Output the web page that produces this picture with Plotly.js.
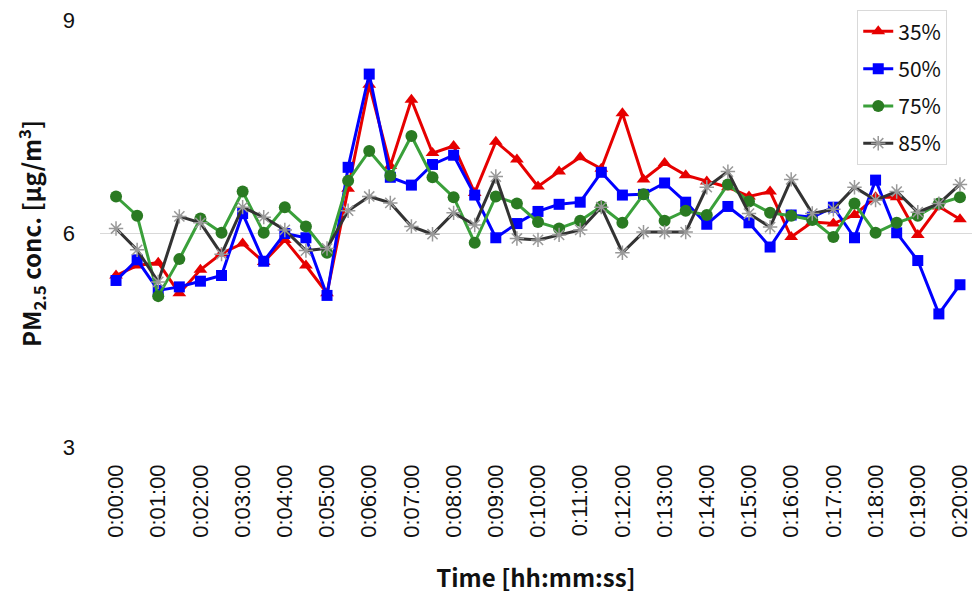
<!DOCTYPE html>
<html>
<head>
<meta charset="utf-8">
<script src="https://cdn.plot.ly/plotly-3.0.1.min.js"></script>
<style>html,body{margin:0;padding:0;background:#fff;}#chart{width:973px;height:594px;}</style>
</head>
<body>
<div id="chart"></div>
<script>
// time stamps every 30 s
var times = ["0:00:00","0:00:30","0:01:00","0:01:30","0:02:00","0:02:30","0:03:00","0:03:30","0:04:00","0:04:30",
"0:05:00","0:05:30","0:06:00","0:06:30","0:07:00","0:07:30","0:08:00","0:08:30","0:09:00","0:09:30",
"0:10:00","0:10:30","0:11:00","0:11:30","0:12:00","0:12:30","0:13:00","0:13:30","0:14:00","0:14:30",
"0:15:00","0:15:30","0:16:00","0:16:30","0:17:00","0:17:30","0:18:00","0:18:30","0:19:00","0:19:30","0:20:00"];
var tickLabels = ["0:00:00","0:01:00","0:02:00","0:03:00","0:04:00","0:05:00","0:06:00","0:07:00","0:08:00","0:09:00",
"0:10:00","0:11:00","0:12:00","0:13:00","0:14:00","0:15:00","0:16:00","0:17:00","0:18:00","0:19:00","0:20:00"];
var rh35 = [5.41,5.55,5.59,5.16,5.49,5.72,5.86,5.60,5.91,5.55,5.16,6.63,8.09,6.95,7.88,7.13,7.23,6.57,7.29,7.04,
6.66,6.87,7.07,6.91,7.69,6.76,6.99,6.82,6.73,6.65,6.52,6.59,5.95,6.16,6.14,6.26,6.51,6.51,5.98,6.38,6.20];
var rh50 = [5.34,5.63,5.20,5.25,5.33,5.41,6.28,5.61,6.00,5.94,5.13,6.93,8.24,6.79,6.68,6.97,7.10,6.54,5.94,6.14,
6.31,6.41,6.44,6.86,6.54,6.55,6.71,6.44,6.13,6.38,6.15,5.81,6.26,6.23,6.37,5.94,6.75,6.01,5.62,4.87,5.28];
var rh75 = [6.52,6.25,5.12,5.64,6.21,6.01,6.59,6.01,6.37,6.10,5.73,6.74,7.16,6.81,7.37,6.79,6.51,5.87,6.52,6.42,
6.16,6.07,6.18,6.38,6.15,6.55,6.18,6.32,6.26,6.69,6.45,6.29,6.25,6.19,5.95,6.42,6.01,6.15,6.25,6.42,6.51];
var rh85 = [6.07,5.77,5.32,6.24,6.15,5.71,6.37,6.23,6.05,5.76,5.79,6.32,6.52,6.43,6.10,5.99,6.29,6.12,6.80,5.93,
5.91,5.98,6.05,6.37,5.73,6.02,6.02,6.02,6.65,6.87,6.28,6.09,6.76,6.28,6.34,6.65,6.47,6.59,6.30,6.42,6.69];
var seriesNames = ["35%","50%","75%","85%"];

var traces = [
  {x: times, y: rh35, name: seriesNames[0], legendgroup:"a", type:"scatter", mode:"lines+markers",
   line:{color:"#e60000", width:3}, marker:{symbol:"triangle-up", size:12, color:"#e60000"}},
  {x: times, y: rh50, name: seriesNames[1], legendgroup:"b", type:"scatter", mode:"lines+markers",
   line:{color:"#0000ff", width:3}, marker:{symbol:"square", size:11, color:"#0000ff"}},
  {x: times, y: rh75, name: seriesNames[2], legendgroup:"c", type:"scatter", mode:"lines+markers",
   line:{color:"#3aa03a", width:3}, marker:{symbol:"circle", size:12, color:"#2a7a22"}},
  {x: times, y: rh85, name: seriesNames[3], legendgroup:"d", type:"scatter", mode:"lines+markers",
   line:{color:"#333333", width:3}, marker:{symbol:"asterisk-open", size:12, color:"#999999", line:{color:"#999999", width:1.5}}}
];

var layout = {
  width: 973, height: 594,
  margin: {l:100, r:1, t:20, b:147},
  paper_bgcolor:"#fff", plot_bgcolor:"#fff",
  font: {family:"'Noto Sans CJK KR', 'Open Sans', sans-serif", color:"#111"},
  xaxis: {
    type:"category", range:[-0.76, 40.57],
    tickmode:"array", tickvals: tickLabels, ticktext: tickLabels,
    tickangle:-90, tickfont:{size:22, family:"'Liberation Sans', Arial, sans-serif", color:"#111"},
    ticklabelstandoff: 12,
    showgrid:false, zeroline:false, showline:false, ticks:"",
    title:{text:"<b>Time [hh:mm:ss]</b>", font:{size:24, color:"#111"}, standoff:36}
  },
  yaxis: {
    range:[3,9], tickvals:[3,6,9], ticktext:["3","6","9"],
    tickfont:{size:22, family:"'Liberation Sans', Arial, sans-serif", color:"#111"},
    showgrid:true, gridcolor:"#d9d9d9", gridwidth:1, zeroline:false, showline:false, ticks:"",
    ticklabelstandoff: 24,
    title:{text:"<b>PM<sub>2.5</sub> conc. [μg/m<sup>3</sup>]</b>", font:{size:24, color:"#111"}, standoff:14}
  },
  legend: {
    x:0.92, xanchor:"center", y:1.023, yanchor:"top",
    bgcolor:"#fff", bordercolor:"#d9d9d9", borderwidth:1,
    entrywidth:110, entrywidthmode:"pixels",
    font:{size:21, color:"#111"}, traceorder:"grouped", tracegroupgap:7
  },
  showlegend:true
};

Plotly.newPlot("chart", traces, layout, {displayModeBar:false, staticPlot:true});
</script>
</body>
</html>
